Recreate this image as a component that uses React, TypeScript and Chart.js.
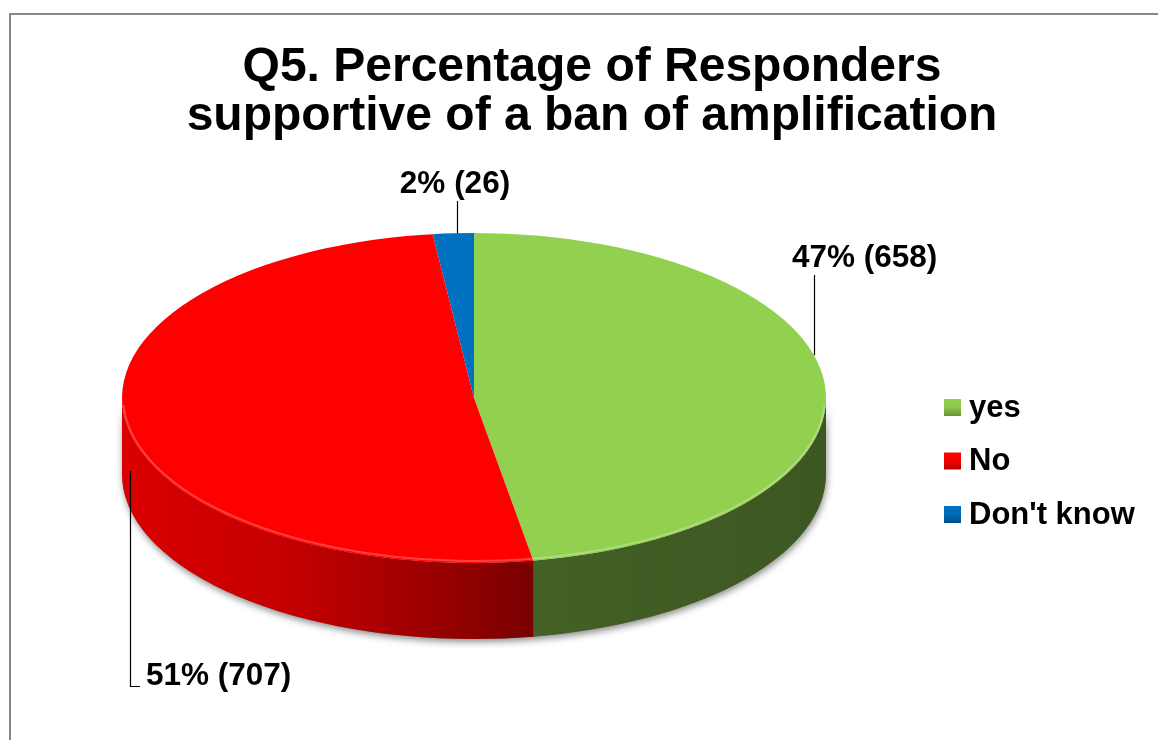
import React, { useEffect, useRef } from "react";
import { Chart, registerables } from "chart.js";

Chart.register(...registerables);

// ---- data ----
const categories = ["yes", "No", "Don't know"];
const counts = [658, 707, 26];
const sliceColors = ["#92d050", "#ff0000", "#0070c0"];
const titleLines = ["Q5. Percentage of Responders", "supportive of a ban of amplification"];

// ---- layout (positions / styles only) ----
const FONT = "'Liberation Sans', Arial, Helvetica, sans-serif";
const PIE_CX = 474;
const PIE_CY = 398;
const PIE_RX = 352;
const PIE_RY = 165;
const PIE_DEPTH = 76;
const labelAnchors: Array<{ x: number; y: number; align: CanvasTextAlign; lx: number; kind: string }> = [
  { x: 792, y: 267, align: "left", lx: 814, kind: "down" },
  { x: 146, y: 685, align: "left", lx: 130, kind: "elbow" },
  { x: 455, y: 193, align: "center", lx: 457, kind: "down" },
];
const legendLeft = 944;
const legendTop = 399;
const legendStep = 53.5;
const legendBox = 17;

function hexToRgb(h: string) {
  const n = parseInt(h.slice(1), 16);
  return [(n >> 16) & 255, (n >> 8) & 255, n & 255];
}
function shade(h: string, f: number) {
  const [r, g, b] = hexToRgb(h);
  return `rgb(${Math.round(r * f)},${Math.round(g * f)},${Math.round(b * f)})`;
}
function topY(x: number) {
  const t = (x - PIE_CX) / PIE_RX;
  return PIE_CY - PIE_RY * Math.sqrt(Math.max(0, 1 - t * t));
}
function bottomY(x: number) {
  const t = (x - PIE_CX) / PIE_RX;
  return PIE_CY + PIE_RY * Math.sqrt(Math.max(0, 1 - t * t));
}

const pie3d = {
  id: "pie3d",
  beforeDraw(chart: any) {
    const ctx = chart.ctx;
    ctx.save();
    ctx.fillStyle = "#ffffff";
    ctx.fillRect(0, 0, chart.width, chart.height);
    ctx.strokeStyle = "#878787";
    ctx.lineWidth = 2;
    ctx.strokeRect(10, 14, chart.width + 50, chart.height + 50);
    ctx.restore();
  },
  beforeDatasetsDraw(chart: any) {
    const meta = chart.getDatasetMeta(0);
    const arcs = meta.data as any[];
    chart.$pieSaved = false;
    if (!arcs.length) return;
    const ctx = chart.ctx;
    const cx = PIE_CX, cy = PIE_CY, rx = PIE_RX, ry = PIE_RY, d = PIE_DEPTH;

    ctx.save();
    ctx.shadowColor = "rgba(0,0,0,0.45)";
    ctx.shadowBlur = 7;
    ctx.shadowOffsetY = 3;
    ctx.shadowOffsetX = 1;
    ctx.beginPath();
    ctx.ellipse(cx, cy, rx, ry, 0, 0, Math.PI);
    ctx.ellipse(cx, cy + d, rx, ry, 0, Math.PI, 0, true);
    ctx.closePath();
    ctx.fillStyle = "#777";
    ctx.fill();
    ctx.restore();

    arcs.forEach((arc: any, i: number) => {
      const { startAngle, endAngle } = arc.getProps(["startAngle", "endAngle"], true);
      const a1 = Math.max(startAngle, 0);
      const a2 = Math.min(endAngle, Math.PI);
      if (a2 <= a1) return;
      const col = chart.data.datasets[0].backgroundColor[i];
      const g = ctx.createLinearGradient(cx - rx, 0, cx + rx, 0);
      g.addColorStop(0, shade(col, 0.86));
      g.addColorStop(0.25, shade(col, 0.76));
      g.addColorStop(0.45, shade(col, 0.6));
      g.addColorStop(0.6, shade(col, 0.46));
      g.addColorStop(1, shade(col, 0.42));
      ctx.save();
      ctx.beginPath();
      ctx.ellipse(cx, cy, rx, ry, 0, a1, a2);
      ctx.ellipse(cx, cy + d, rx, ry, 0, a2, a1, true);
      ctx.closePath();
      ctx.fillStyle = g;
      ctx.fill();
      ctx.restore();
    });

    const a0 = arcs[0];
    const R = a0.outerRadius;
    ctx.save();
    ctx.translate(cx, cy);
    ctx.scale(rx / R, ry / R);
    ctx.translate(-a0.x, -a0.y);
    chart.$pieSaved = true;
  },
  afterDatasetsDraw(chart: any) {
    const ctx = chart.ctx;
    if (chart.$pieSaved) {
      ctx.restore();
      chart.$pieSaved = false;
    }
    ctx.save();
    ctx.beginPath();
    ctx.ellipse(PIE_CX, PIE_CY - 1, PIE_RX - 1, PIE_RY - 1, 0, 0.05, Math.PI - 0.05);
    ctx.strokeStyle = "rgba(255,255,255,0.25)";
    ctx.lineWidth = 2;
    ctx.stroke();
    ctx.restore();
  },
  afterDraw(chart: any) {
    const ctx = chart.ctx;
    const data = chart.data.datasets[0].data as number[];
    const total = data.reduce((a: number, b: number) => a + b, 0);
    ctx.save();
    ctx.fillStyle = "#000";
    ctx.strokeStyle = "#000";
    ctx.lineWidth = 1.2;
    ctx.font = `bold 31.5px ${FONT}`;
    ctx.textBaseline = "alphabetic";
    data.forEach((v: number, i: number) => {
      const a = labelAnchors[i];
      const txt = `${Math.round((v / total) * 100)}% (${v})`;
      ctx.textAlign = a.align;
      ctx.fillText(txt, a.x, a.y);
      ctx.beginPath();
      if (a.kind === "down") {
        ctx.moveTo(a.lx + 0.5, a.y + 8);
        ctx.lineTo(a.lx + 0.5, topY(a.lx));
      } else {
        const y0 = bottomY(a.lx) + PIE_DEPTH / 2;
        ctx.moveTo(a.lx + 0.5, y0);
        ctx.lineTo(a.lx + 0.5, a.y + 1.5);
        ctx.lineTo(a.x - 6, a.y + 1.5);
      }
      ctx.stroke();
    });
    const labels = chart.data.labels as string[];
    const colors = chart.data.datasets[0].backgroundColor as string[];
    ctx.font = `bold 31px ${FONT}`;
    ctx.textAlign = "left";
    ctx.textBaseline = "middle";
    labels.forEach((lab: string, i: number) => {
      const y = legendTop + i * legendStep;
      const g = ctx.createLinearGradient(0, y, 0, y + legendBox);
      g.addColorStop(0, shade(colors[i], 1.0));
      g.addColorStop(0.5, shade(colors[i], 0.95));
      g.addColorStop(1, shade(colors[i], 0.7));
      ctx.fillStyle = g;
      ctx.fillRect(legendLeft, y, legendBox, legendBox);
      ctx.fillStyle = "#000";
      ctx.fillText(lab, legendLeft + legendBox + 8, y + legendBox / 2 + 0.5);
    });
    ctx.restore();
  },
};

export default function App() {
  const ref = useRef<HTMLCanvasElement | null>(null);
  useEffect(() => {
    const canvas = ref.current;
    if (!canvas) return;
    const chart = new Chart(canvas, {
      type: "pie",
      data: {
        labels: categories,
        datasets: [
          {
            data: counts,
            backgroundColor: sliceColors,
            borderWidth: 0,
          },
        ],
      },
      options: {
        responsive: false,
        animation: false,
        events: [],
        rotation: 0,
        layout: { padding: { left: 26, right: 0, top: 0, bottom: 0 } },
        plugins: {
          legend: { display: false },
          tooltip: { enabled: false },
          title: {
            display: true,
            text: titleLines,
            color: "#000",
            font: { family: FONT, size: 48, weight: "bold", lineHeight: 1.02 },
            padding: { top: 43, bottom: 10 },
          },
        },
      },
      plugins: [pie3d],
    });
    return () => chart.destroy();
  }, []);
  return (
    <div style={{ position: "fixed", left: 0, top: 0, width: 1158, height: 740, background: "#fff" }}>
      <canvas ref={ref} width={1158} height={740} style={{ width: 1158, height: 740, display: "block" }} />
    </div>
  );
}
